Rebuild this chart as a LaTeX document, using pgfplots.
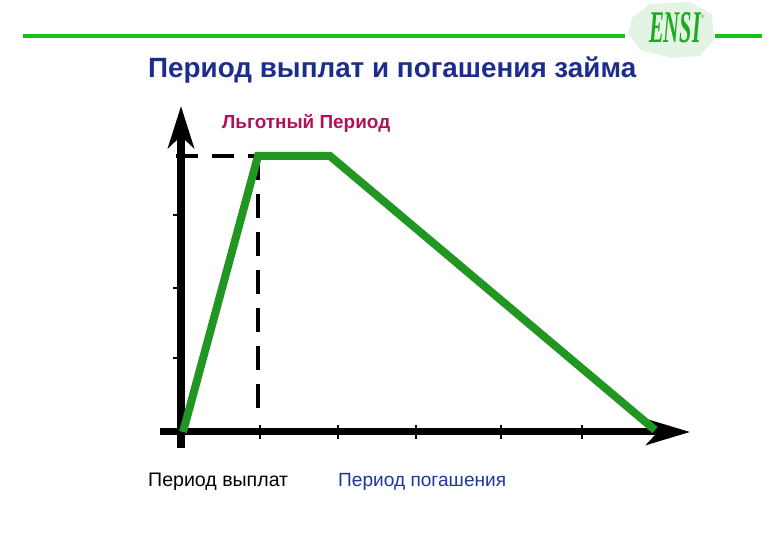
\documentclass[border=0pt]{standalone}
\usepackage{fontspec}
\setmainfont{Liberation Sans}
\newfontfamily\seriffont{Liberation Serif}
\usepackage{graphicx}
\usepackage{pgfplots}
\pgfplotsset{compat=1.18}
\usetikzlibrary{arrows.meta}
\definecolor{lgreen}{RGB}{34,150,34}
\definecolor{topgreen}{RGB}{20,195,20}
\definecolor{titleblue}{RGB}{28,45,140}
\definecolor{labblue}{RGB}{30,55,155}
\definecolor{crimson}{RGB}{176,18,90}
\definecolor{logogreen}{RGB}{30,170,30}
\definecolor{palegreen}{RGB}{228,244,228}
\begin{document}
\begin{tikzpicture}
\useasboundingbox (0,0) rectangle (780pt,540pt);
\begin{axis}[
  at={(0,0)}, anchor=south west,
  width=780pt, height=540pt, scale only axis,
  xmin=0, xmax=780, ymin=0, ymax=540,
  hide axis, clip=false,
]
% top decorative lines
\addplot[topgreen, line width=4pt] coordinates {(23,504) (625,504)};
\addplot[topgreen, line width=4pt] coordinates {(715,504) (762,504)};
% logo
\addplot[draw=none, fill=palegreen] coordinates {(632,522) (650,536) (690,538) (712,526) (714,500) (700,484) (672,482) (640,490) (628,506) (632,522)};
\node[inner sep=0pt, text=logogreen] at (axis cs:675,512) {\resizebox{52pt}{30pt}{\seriffont\bfseries\itshape ENSI}};
\node[inner sep=0pt, text=logogreen, font=\tiny] at (axis cs:703,522) {\textsuperscript{®}};
% title
\node[inner sep=0pt, anchor=west, text=titleblue] at (axis cs:148,470) {\resizebox{488pt}{!}{\bfseries Период выплат и погашения займа}};
% axes
\addplot[black, line width=7pt, -{Stealth[length=44pt, width=26pt, inset=12pt]}] coordinates {(160,108) (690,108)};
\addplot[black, line width=8pt, -{Stealth[length=42pt, width=26pt, inset=12pt]}] coordinates {(181,92) (181,434)};
% x ticks
\addplot[black, line width=2pt] coordinates {(260,101) (260,115)};
\addplot[black, line width=2pt] coordinates {(338,101) (338,115)};
\addplot[black, line width=2pt] coordinates {(416,101) (416,115)};
\addplot[black, line width=2pt] coordinates {(501,101) (501,115)};
\addplot[black, line width=2pt] coordinates {(582,101) (582,115)};
% y ticks
\addplot[black, line width=2pt] coordinates {(173,325) (181,325)};
\addplot[black, line width=2pt] coordinates {(173,252) (181,252)};
\addplot[black, line width=2pt] coordinates {(173,182) (181,182)};
% dashed guides
\addplot[black, line width=4pt, dash pattern=on 22pt off 14pt] coordinates {(176,384) (258,384)};
\addplot[black, line width=4pt, dash pattern=on 24pt off 14pt] coordinates {(258,384) (258,119)};
% green profile
\addplot[lgreen, line width=8pt, line join=miter] coordinates {(183,108) (258,384) (330,384) (655,110)};
% labels
\node[inner sep=0pt, anchor=west, text=crimson] at (axis cs:222,417) {\resizebox{168pt}{!}{\bfseries Льготный Период}};
\node[inner sep=0pt, anchor=west, text=black] at (axis cs:148,58) {\resizebox{140pt}{!}{Период выплат}};
\node[inner sep=0pt, anchor=west, text=labblue] at (axis cs:338,58) {\resizebox{168pt}{!}{Период погашения}};
\end{axis}
\end{tikzpicture}
\end{document}
